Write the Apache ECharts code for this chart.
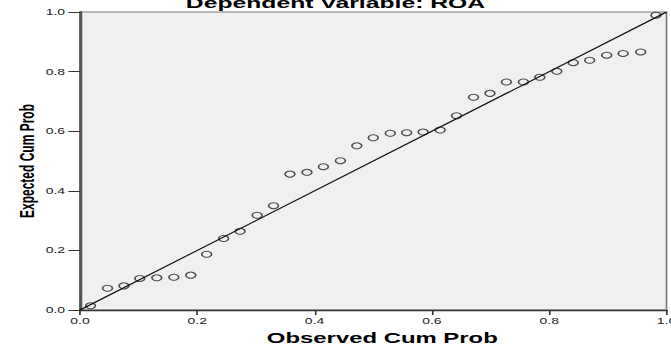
<!DOCTYPE html>
<html>
<head>
<meta charset="utf-8">
<script src="https://cdn.jsdelivr.net/npm/echarts@6/dist/echarts.min.js"></script>
<style>
  html, body { margin: 0; padding: 0; background: #fff; overflow: hidden; }
  /* the source picture is stretched sideways, so draw narrow and widen */
  #main { width: 407px; height: 345px; transform: scaleX(1.6486); transform-origin: 0 0; }
</style>
</head>
<body>
<div id="main"></div>
<script>
// observed vs expected cumulative probability
const observedCum = [0.018, 0.047, 0.075, 0.102, 0.131, 0.160, 0.189, 0.216, 0.245, 0.273,
    0.302, 0.330, 0.358, 0.387, 0.415, 0.444, 0.472, 0.500, 0.529, 0.557,
    0.585, 0.614, 0.642, 0.671, 0.699, 0.727, 0.756, 0.784, 0.813, 0.841,
    0.869, 0.898, 0.926, 0.956, 0.982];
const expectedCum = [0.014, 0.073, 0.081, 0.106, 0.108, 0.110, 0.117, 0.187, 0.240, 0.264,
    0.318, 0.350, 0.456, 0.462, 0.481, 0.501, 0.551, 0.578, 0.593, 0.595,
    0.597, 0.604, 0.652, 0.714, 0.727, 0.765, 0.765, 0.781, 0.801, 0.830,
    0.838, 0.855, 0.861, 0.866, 0.989];
// reference diagonal
const diagX = [0, 1];
const diagY = [0, 1];
const tickValues = [0.0, 0.2, 0.4, 0.6, 0.8, 1.0];

const font = "'Liberation Sans', Arial, sans-serif";
let points = observedCum.map((x, i) => [x, expectedCum[i]]);
let diag = diagX.map((x, i) => [x, diagY[i]]);

function axisCommon(name) {
    return {
        type: 'value', min: tickValues[0], max: tickValues[tickValues.length - 1], interval: 0.2,
        name: name, nameLocation: 'middle', nameMoveOverlap: false,
        nameTextStyle: {fontFamily: font, fontWeight: 'bold', color: '#000'},
        axisLabel: {
            fontFamily: font, fontSize: 8.5, color: '#222',
            formatter: v => v.toFixed(1)
        },
        axisTick: {show: true, lineStyle: {color: '#333', width: 1}},
        splitLine: {show: false}
    };
}

let xAxis = axisCommon('Observed Cum Prob');
xAxis.nameGap = 20;
xAxis.nameTextStyle.fontSize = 14.5;
xAxis.nameTextStyle.padding = [0, 0, 0, 11];
xAxis.axisTick.length = 5;
xAxis.axisLabel.margin = 7;
xAxis.axisLine = {show: true, onZero: false, lineStyle: {color: '#333', width: 1.3}};

let yAxis = axisCommon('Expected Cum Prob');
yAxis.nameGap = 26;
yAxis.nameTextStyle.fontSize = 12;
yAxis.axisTick.length = 7;
yAxis.axisLabel.margin = 9;
yAxis.axisLine = {show: true, onZero: false, lineStyle: {color: '#555', width: 1.8}};

let option = {
    animation: false,
    backgroundColor: '#fff',
    title: {
        text: 'Dependent Variable: ROA', left: 'center', top: -5, padding: 0,
        textStyle: {fontFamily: font, fontSize: 15, fontWeight: 'bold', color: '#000'}
    },
    grid: {
        left: 48.5, right: 2.7, top: 12, bottom: 35,
        outerBoundsMode: 'none', containLabel: false,
        show: true, backgroundColor: '#f0f0f0', borderColor: '#7a7a7a', borderWidth: 1
    },
    xAxis: xAxis,
    yAxis: yAxis,
    series: [{
        type: 'line', data: diag, symbol: 'none', silent: true,
        lineStyle: {color: '#111', width: 1}
    }, {
        type: 'scatter', data: points, symbol: 'circle', symbolSize: 6,
        itemStyle: {color: 'rgba(0,0,0,0)', borderColor: '#222', borderWidth: 1}
    }]
};

let myChart = echarts.init(document.getElementById('main'), null, {renderer: 'svg'});
myChart.setOption(option);
</script>
</body>
</html>
